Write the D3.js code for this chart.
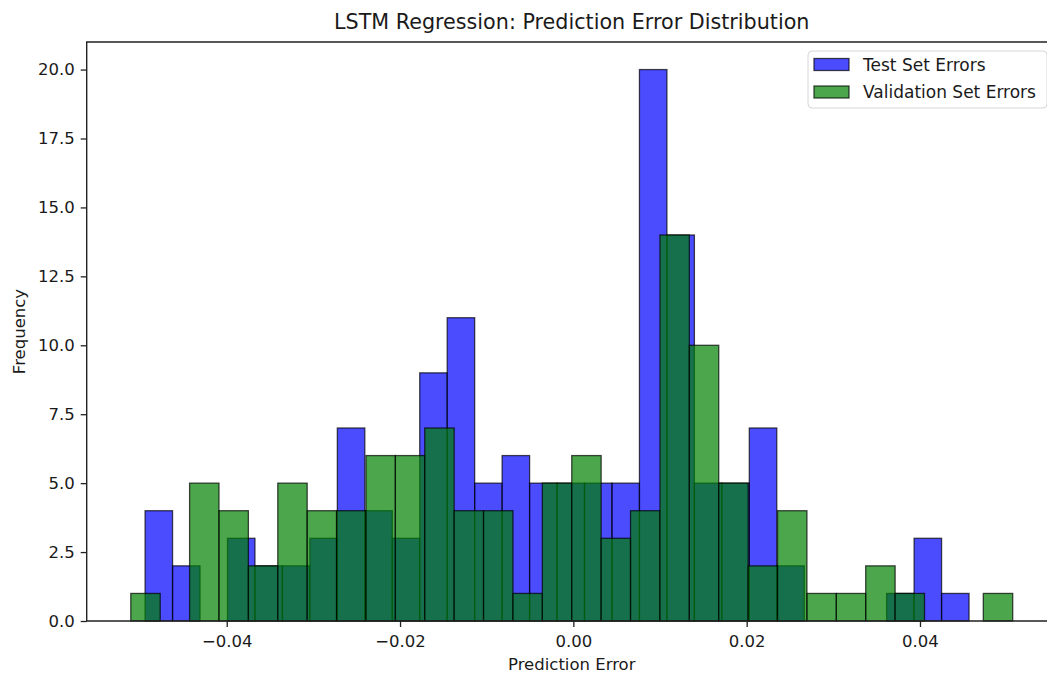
<!DOCTYPE html>
<html>
<head>
<meta charset="utf-8">
<script src="https://cdn.jsdelivr.net/npm/d3@7"></script>
<style>
  html, body { margin: 0; padding: 0; background: #fff; }
  svg text { font-family: "DejaVu Sans", sans-serif; fill: #1a1a1a; }
</style>
</head>
<body>
<svg id="chart" width="1047" height="673"></svg>
<script>
// Histogram counts (30 bins each)
const testCounts = [4, 2, 0, 3, 2, 2, 3, 7, 4, 3, 9, 11, 5, 6, 5, 5, 5, 5, 20, 14, 5, 5, 7, 2, 0, 0, 0, 1, 3, 1];
const valCounts = [1, 0, 5, 4, 2, 5, 4, 4, 6, 6, 7, 4, 4, 1, 5, 6, 3, 4, 14, 10, 5, 2, 4, 1, 1, 2, 1, 0, 0, 1];

// Bin ranges (min / max error of each set)
const testRange = [-0.04942, 0.04566];
const valRange = [-0.05107, 0.0507];

const seriesNames = ['Test Set Errors', 'Validation Set Errors'];
const seriesColors = ['blue', 'green'];

const xTicks = [-0.04, -0.02, 0, 0.02, 0.04];
const yTicks = [0, 2.5, 5, 7.5, 10, 12.5, 15, 17.5, 20];

const svg = d3.select('#chart');

// plot area in pixels
const area = { left: 86.7, right: 1056.8, top: 42, bottom: 621 };

const edges = (range, n) => d3.range(n + 1).map((i) => range[0] + (i * (range[1] - range[0])) / n);

const series = [
  { name: seriesNames[0], color: seriesColors[0], counts: testCounts, edges: edges(testRange, testCounts.length) },
  { name: seriesNames[1], color: seriesColors[1], counts: valCounts, edges: edges(valRange, valCounts.length) },
];

// matplotlib style 5% margins on x
const lo = d3.min(series, (s) => s.edges[0]);
const hi = d3.max(series, (s) => s.edges[s.edges.length - 1]);
const pad = (hi - lo) * 0.05;

const x = d3.scaleLinear().domain([lo - pad, hi + pad]).range([area.left, area.right]);
const y = d3.scaleLinear().domain([0, 21]).range([area.bottom, area.top]);

// Bars
series.forEach((s) => {
  svg
    .append('g')
    .selectAll('rect')
    .data(s.counts.map((c, i) => ({ c, x0: s.edges[i], x1: s.edges[i + 1] })))
    .join('rect')
    .attr('x', (d) => x(d.x0))
    .attr('width', (d) => x(d.x1) - x(d.x0))
    .attr('y', (d) => y(d.c))
    .attr('height', (d) => y(0) - y(d.c))
    .attr('fill', s.color)
    .attr('fill-opacity', 0.7)
    .attr('stroke', '#000')
    .attr('stroke-opacity', 0.7)
    .attr('stroke-width', 1.3);
});

// Axes
const xAxis = svg
  .append('g')
  .attr('transform', `translate(0,${area.bottom})`)
  .call(d3.axisBottom(x).tickValues(xTicks).tickFormat(d3.format('.2f')).tickSize(6).tickPadding(8).tickSizeOuter(0));

const yAxis = svg
  .append('g')
  .attr('transform', `translate(${area.left},0)`)
  .call(d3.axisLeft(y).tickValues(yTicks).tickFormat(d3.format('.1f')).tickSize(6).tickPadding(6).tickSizeOuter(0));

[xAxis, yAxis].forEach((a) => {
  a.selectAll('text').style('font-size', '16.5px').style('font-family', '"DejaVu Sans", sans-serif').attr('fill', '#1a1a1a');
  a.selectAll('line').attr('stroke', '#222').attr('stroke-width', 1.3);
  a.select('.domain').remove();
});

// Spines (right one falls outside the picture)
svg
  .append('path')
  .attr('d', `M${area.left},${area.bottom}V${area.top}H${area.right}V${area.bottom}Z`)
  .attr('fill', 'none')
  .attr('stroke', '#222')
  .attr('stroke-width', 1.4);

// Titles
svg
  .append('text')
  .attr('x', (area.left + area.right) / 2)
  .attr('y', 29)
  .attr('text-anchor', 'middle')
  .style('font-size', '20.7px')
  .text('LSTM Regression: Prediction Error Distribution');

svg
  .append('text')
  .attr('x', (area.left + area.right) / 2)
  .attr('y', 670)
  .attr('text-anchor', 'middle')
  .style('font-size', '16.5px')
  .text('Prediction Error');

svg
  .append('text')
  .attr('transform', `translate(25,${(area.top + area.bottom) / 2}) rotate(-90)`)
  .attr('text-anchor', 'middle')
  .style('font-size', '16.5px')
  .text('Frequency');

// Legend
const legend = svg.append('g').attr('transform', 'translate(808,51)');

legend
  .append('rect')
  .attr('width', 239)
  .attr('height', 57)
  .attr('rx', 4)
  .attr('fill', '#fff')
  .attr('fill-opacity', 0.8)
  .attr('stroke', '#d6d6d6');

const items = legend
  .selectAll('g')
  .data(series)
  .join('g')
  .attr('transform', (d, i) => `translate(0,${13.5 + i * 27.5})`);

items
  .append('rect')
  .attr('x', 6)
  .attr('y', -6)
  .attr('width', 35)
  .attr('height', 12)
  .attr('fill', (d) => d.color)
  .attr('fill-opacity', 0.7)
  .attr('stroke', '#000')
  .attr('stroke-opacity', 0.7)
  .attr('stroke-width', 1.3);

items
  .append('text')
  .attr('x', 55)
  .attr('dy', '0.36em')
  .style('font-size', '17px')
  .text((d) => d.name);
</script>
</body>
</html>
